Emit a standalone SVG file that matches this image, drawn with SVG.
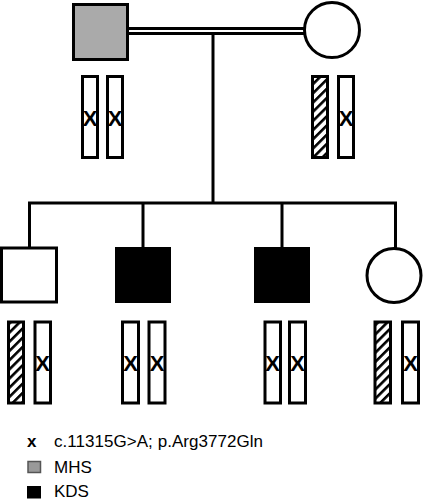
<svg xmlns="http://www.w3.org/2000/svg" width="423" height="500" viewBox="0 0 423 500">
<style>
.ln{stroke:#000;stroke-width:3;fill:none}
.bar{fill:#fff;stroke:#000;stroke-width:3}
.hat{fill:url(#hatch);stroke:#000;stroke-width:3}
.x{font-family:"Liberation Sans",Arial,sans-serif;font-weight:bold;font-size:22px;text-anchor:middle;fill:#000}
.lg{font-family:"Liberation Sans",Arial,sans-serif;font-size:17px;fill:#000}
</style>
<defs>
<pattern id="hatch" patternUnits="userSpaceOnUse" width="6.5" height="6.5" patternTransform="rotate(45)">
<rect width="6.5" height="6.5" fill="#fff"/>
<rect width="2.6" height="6.5" fill="#000"/>
</pattern>
</defs>
<rect width="423" height="500" fill="#fff"/>
<g id="connectors">
<line class="ln" x1="128" y1="28.5" x2="304" y2="28.5"/>
<line class="ln" x1="128" y1="33.5" x2="304" y2="33.5"/>
<line class="ln" x1="213" y1="35" x2="213" y2="203"/>
<line class="ln" x1="28" y1="203" x2="397" y2="203"/>
<line class="ln" x1="29.5" y1="203" x2="29.5" y2="248"/>
<line class="ln" x1="143" y1="203" x2="143" y2="248"/>
<line class="ln" x1="282" y1="203" x2="282" y2="248"/>
<line class="ln" x1="395.5" y1="203" x2="395.5" y2="248"/>
</g>
<g id="father">
<rect x="73.5" y="4.5" width="54" height="55" fill="#aaa" stroke="#000" stroke-width="3"/>
<rect class="bar" x="82.5" y="76.5" width="15" height="81"/>
<rect class="bar" x="107.5" y="76.5" width="15" height="81"/>
<text class="x" x="90" y="126">X</text>
<text class="x" x="115" y="126">X</text>
</g>
<g id="mother">
<circle cx="332" cy="30" r="27.5" fill="#fff" stroke="#000" stroke-width="3"/>
<rect class="hat" x="312.5" y="76.5" width="15" height="81"/>
<rect class="bar" x="338.5" y="76.5" width="15" height="81"/>
<text class="x" x="346" y="126">X</text>
</g>
<g id="child1">
<rect x="1.5" y="248" width="55" height="54" fill="#fff" stroke="#000" stroke-width="3"/>
<rect class="hat" x="8.5" y="322" width="15" height="81"/>
<rect class="bar" x="35" y="322" width="15.5" height="81"/>
<text class="x" x="42.7" y="371">X</text>
</g>
<g id="child2">
<rect x="115" y="247" width="56" height="56" fill="#000"/>
<rect class="bar" x="122.5" y="322" width="16" height="81"/>
<rect class="bar" x="149" y="322" width="16" height="81"/>
<text class="x" x="130.5" y="371">X</text>
<text class="x" x="157" y="371">X</text>
</g>
<g id="child3">
<rect x="254" y="247" width="56" height="56" fill="#000"/>
<rect class="bar" x="265" y="322" width="15.5" height="81"/>
<rect class="bar" x="289.5" y="322" width="16" height="81"/>
<text class="x" x="272.7" y="371">X</text>
<text class="x" x="297.5" y="371">X</text>
</g>
<g id="child4">
<circle cx="394" cy="275.5" r="27" fill="#fff" stroke="#000" stroke-width="3"/>
<rect class="hat" x="375" y="322" width="15.5" height="81"/>
<rect class="bar" x="402.5" y="322" width="16" height="81"/>
<text class="x" x="410.5" y="371">X</text>
</g>
<g id="legend">
<text class="lg" x="27" y="447" font-weight="bold" font-size="19">x</text>
<text class="lg" x="54" y="447" textLength="209" lengthAdjust="spacing">c.11315G&gt;A; p.Arg3772Gln</text>
<rect x="28" y="461.5" width="12.5" height="11" fill="#999" stroke="#555" stroke-width="1.5"/>
<text class="lg" x="54" y="473">MHS</text>
<rect x="27" y="486" width="14" height="12.5" fill="#000"/>
<text class="lg" x="54" y="496.5">KDS</text>
</g>
</svg>
